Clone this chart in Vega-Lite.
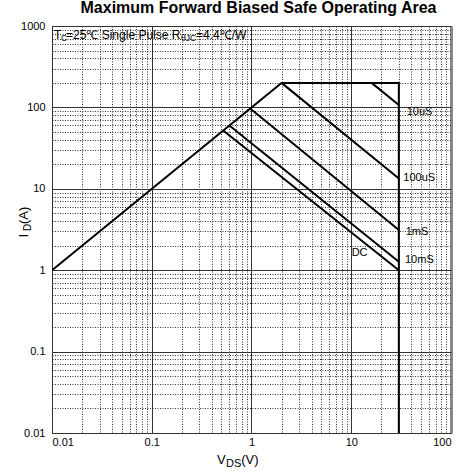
{
  "$schema": "https://vega.github.io/schema/vega-lite/v6.json",
  "width": 399,
  "height": 407,
  "autosize": {"type": "none"},
  "padding": {"left": 52, "top": 26, "right": 9, "bottom": 43},
  "background": "white",
  "title": {
    "text": "Maximum Forward Biased Safe Operating Area",
    "font": "Liberation Sans",
    "fontSize": 16,
    "fontWeight": "bold",
    "color": "black",
    "anchor": "middle",
    "frame": "group",
    "offset": 4,
    "dx": 7
  },
  "config": {
    "view": {"stroke": "#222", "strokeWidth": 1},
    "axis": {
      "ticks": false,
      "domain": false,
      "grid": true,
      "labelFont": "Liberation Sans",
      "labelFontSize": 11,
      "labelColor": "black",
      "format": "~g",
      "title": null
    },
    "text": {"font": "Liberation Sans", "fill": "black", "align": "left", "baseline": "middle"}
  },
  "datasets": {
    "curves": [
      {"series": "boundary", "order": 1, "x": 0.01, "y": 1},
      {"series": "boundary", "order": 2, "x": 2, "y": 200},
      {"series": "boundary", "order": 3, "x": 30, "y": 200},
      {"series": "boundary", "order": 4, "x": 30, "y": 0.01},
      {"series": "10uS", "order": 1, "x": 16, "y": 200},
      {"series": "10uS", "order": 2, "x": 30, "y": 107},
      {"series": "100uS", "order": 1, "x": 2, "y": 200},
      {"series": "100uS", "order": 2, "x": 30, "y": 13.4},
      {"series": "1mS", "order": 1, "x": 0.97, "y": 97},
      {"series": "1mS", "order": 2, "x": 30, "y": 3.12},
      {"series": "10mS", "order": 1, "x": 0.6, "y": 60},
      {"series": "10mS", "order": 2, "x": 30, "y": 1.27},
      {"series": "DC", "order": 1, "x": 0.52, "y": 52},
      {"series": "DC", "order": 2, "x": 30, "y": 1.0}
    ],
    "curveLabels": [
      {"x": 35.96, "y": 88.5, "label": "10uS"},
      {"x": 33.25, "y": 13.46, "label": "100uS"},
      {"x": 35.14, "y": 2.92, "label": "1mS"},
      {"x": 34.58, "y": 1.335, "label": "10mS"},
      {"x": 10.1, "y": 1.627, "label": "DC"}
    ],
    "annMain": [
      {"x": 0.010473, "y": 775, "label": "T"},
      {"x": 0.013818, "y": 775, "label": "=25℃ Single Pulse R"},
      {"x": 0.27773, "y": 775, "label": "=4.4℃/W"}
    ],
    "annSub": [
      {"x": 0.012312, "y": 775, "label": "C"},
      {"x": 0.19648, "y": 775, "label": "θJC"}
    ],
    "xTitleMain": [
      {"x": 0.4509, "y": 0.004658, "label": "V"},
      {"x": 0.79, "y": 0.004658, "label": "(V)"}
    ],
    "xTitleSub": [
      {"x": 0.5551, "y": 0.004658, "label": "DS"}
    ],
    "yTitleMain": [
      {"x": 0.005239, "y": 2.522, "label": "I"},
      {"x": 0.005239, "y": 3.696, "label": "(A)"}
    ],
    "yTitleSub": [
      {"x": 0.005239, "y": 3.031, "label": "D"}
    ]
  },
  "encoding": {
    "x": {
      "field": "x",
      "type": "quantitative",
      "scale": {"type": "log", "domain": [0.01, 100], "nice": false},
      "axis": {
        "values": [0.01, 0.02, 0.03, 0.04, 0.05, 0.06, 0.07, 0.08, 0.09, 0.1, 0.2, 0.3, 0.4, 0.5, 0.6, 0.7, 0.8, 0.9, 1, 2, 3, 4, 5, 6, 7, 8, 9, 10, 20, 30, 40, 50, 60, 70, 80, 90, 100],
        "labelExpr": "indexof([0.01, 0.1, 1, 10, 100], datum.value) >= 0 ? datum.label : ''",
        "labelPadding": 3,
        "gridDash": {"condition": {"test": "indexof([0.01, 0.1, 1, 10, 100], datum.value) >= 0", "value": []}, "value": [1, 1.5]},
        "gridColor": {"condition": {"test": "datum.value == 100", "value": "#888"}, "value": "#333"},
        "gridWidth": {"condition": {"test": "datum.value == 100", "value": 3}, "value": 1},
        "gridOpacity": 1
      }
    },
    "y": {
      "field": "y",
      "type": "quantitative",
      "scale": {"type": "log", "domain": [0.01, 1000], "nice": false},
      "axis": {
        "values": [0.01, 0.02, 0.03, 0.04, 0.05, 0.06, 0.07, 0.08, 0.09, 0.1, 0.2, 0.3, 0.4, 0.5, 0.6, 0.7, 0.8, 0.9, 1, 2, 3, 4, 5, 6, 7, 8, 9, 10, 20, 30, 40, 50, 60, 70, 80, 90, 100, 200, 300, 400, 500, 600, 700, 800, 900, 1000],
        "labelExpr": "indexof([0.01, 0.1, 1, 10, 100, 1000], datum.value) >= 0 ? datum.label : ''",
        "labelPadding": 7,
        "gridDash": {"condition": {"test": "indexof([0.01, 0.1, 1, 10, 100, 1000], datum.value) >= 0", "value": []}, "value": [1, 1.5]},
        "gridColor": "#333",
        "gridWidth": 1,
        "gridOpacity": 1
      }
    }
  },
  "layer": [
    {
      "data": {"name": "curves"},
      "mark": {"type": "line", "color": "black", "strokeWidth": 2, "clip": true},
      "encoding": {
        "detail": {"field": "series", "type": "nominal"},
        "order": {"field": "order", "type": "quantitative"}
      }
    },
    {
      "data": {"name": "curveLabels"},
      "mark": {"type": "text", "fontSize": 11, "fill": "black"},
      "encoding": {"text": {"field": "label", "type": "nominal"}}
    },
    {
      "data": {"name": "annMain"},
      "mark": {"type": "text", "fontSize": 12, "fill": "black"},
      "encoding": {"text": {"field": "label", "type": "nominal"}}
    },
    {
      "data": {"name": "annSub"},
      "mark": {"type": "text", "fontSize": 8.5, "dy": 3, "fill": "black"},
      "encoding": {"text": {"field": "label", "type": "nominal"}}
    },
    {
      "data": {"name": "xTitleMain"},
      "mark": {"type": "text", "fontSize": 13, "fill": "black"},
      "encoding": {"text": {"field": "label", "type": "nominal"}}
    },
    {
      "data": {"name": "xTitleSub"},
      "mark": {"type": "text", "fontSize": 11, "dy": 4, "fill": "black"},
      "encoding": {"text": {"field": "label", "type": "nominal"}}
    },
    {
      "data": {"name": "yTitleMain"},
      "mark": {"type": "text", "fontSize": 13, "angle": 270, "fill": "black"},
      "encoding": {"text": {"field": "label", "type": "nominal"}}
    },
    {
      "data": {"name": "yTitleSub"},
      "mark": {"type": "text", "fontSize": 10, "angle": 270, "dy": 4, "fill": "black"},
      "encoding": {"text": {"field": "label", "type": "nominal"}}
    }
  ]
}
